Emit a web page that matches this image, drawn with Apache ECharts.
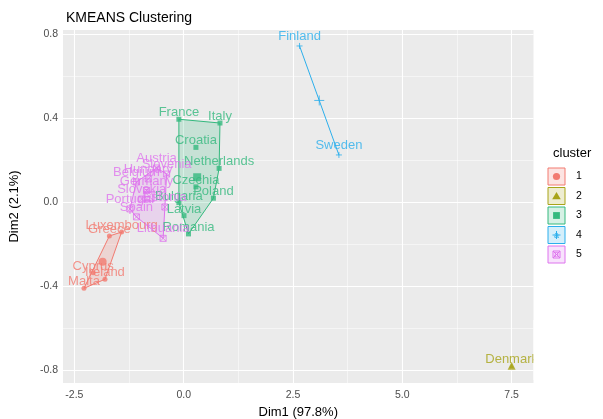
<!DOCTYPE html>
<html>
<head>
<meta charset="utf-8">
<script src="https://cdn.jsdelivr.net/npm/echarts@6/dist/echarts.min.js"></script>
<style>
  html, body { margin: 0; padding: 0; background: #fff; }
  #chart { width: 603px; height: 419px; }
</style>
</head>
<body>
<div id="chart"></div>
<script>
// data
var clusterNames = ['1', '2', '3', '4', '5'];
var clusterColors = ['#F27A70', '#A8A418', '#34B97E', '#2CAFEC', '#DE74EE'];

var countryNames = ['Luxembourg', 'Greece', 'Cyprus', 'Ireland', 'Malta',
  'Denmark',
  'France', 'Italy', 'Croatia', 'Netherlands', 'Czechia', 'Poland', 'Bulgaria', 'Latvia', 'Romania',
  'Finland', 'Sweden',
  'Austria', 'Slovenia', 'Hungary', 'Belgium', 'Germany', 'Slovakia', 'Estonia', 'Portugal', 'Spain', 'Lithuania'];
var dim1Values = [-1.42, -1.70, -2.07, -1.80, -2.28,
  7.50,
  -0.11, 0.83, 0.28, 0.81, 0.28, 0.68, -0.11, 0.007, 0.11,
  2.65, 3.55,
  -0.62, -0.39, -0.81, -1.08, -0.85, -0.96, -0.43, -1.23, -1.08, -0.47];
var dim2Values = [-0.143, -0.162, -0.337, -0.368, -0.411,
  -0.78,
  0.394, 0.376, 0.26, 0.16, 0.072, 0.018, -0.003, -0.065, -0.152,
  0.743, 0.224,
  0.162, 0.133, 0.11, 0.095, 0.055, 0.014, -0.024, -0.033, -0.071, -0.173];
var clusterIds = [0, 0, 0, 0, 0,
  1,
  2, 2, 2, 2, 2, 2, 2, 2, 2,
  3, 3,
  4, 4, 4, 4, 4, 4, 4, 4, 4, 4];

var xTicks = [-2.5, 0, 2.5, 5, 7.5];
var xMinor = [-1.25, 1.25, 3.75, 6.25];
var yTicks = [-0.8, -0.4, 0, 0.4, 0.8];
var yMinor = [-0.6, -0.2, 0.2, 0.6];

var plusPath = 'path://M0,5L10,5M5,0L5,10';
var boxXPath = 'path://M0,0L10,0L10,10L0,10ZM0,0L10,10M10,0L0,10';
var symbols = ['circle', 'triangle', 'rect', plusPath, boxXPath];
var hollow = [false, false, false, true, true];

function hexA(hex, a) {
  var n = parseInt(hex.slice(1), 16);
  return 'rgba(' + (n >> 16) + ',' + ((n >> 8) & 255) + ',' + (n & 255) + ',' + a + ')';
}

// convex hull (monotone chain)
function hull(pts) {
  pts = pts.slice().sort(function (a, b) { return a[0] - b[0] || a[1] - b[1]; });
  if (pts.length < 3) return pts;
  function cross(o, a, b) { return (a[0] - o[0]) * (b[1] - o[1]) - (a[1] - o[1]) * (b[0] - o[0]); }
  var lower = [], upper = [];
  pts.forEach(function (p) {
    while (lower.length >= 2 && cross(lower[lower.length - 2], lower[lower.length - 1], p) <= 0) lower.pop();
    lower.push(p);
  });
  for (var i = pts.length - 1; i >= 0; i--) {
    var p = pts[i];
    while (upper.length >= 2 && cross(upper[upper.length - 2], upper[upper.length - 1], p) <= 0) upper.pop();
    upper.push(p);
  }
  upper.pop(); lower.pop();
  return lower.concat(upper);
}

// grid lines (ggplot style), major and minor
var gridLines = function (xs, ys) {
  return xs.map(function (v) { return { xAxis: v }; })
    .concat(ys.map(function (v) { return { yAxis: v }; }));
};

var series = [{
  type: 'line',
  z: 1,
  silent: true,
  data: [],
  markLine: {
    z: 1, silent: true, symbol: 'none', animation: false,
    label: { show: false },
    lineStyle: { color: '#fff', width: 0.5, type: 'solid' },
    data: gridLines(xMinor, yMinor)
  }
}, {
  type: 'line',
  z: 1,
  silent: true,
  data: [],
  markLine: {
    z: 1, silent: true, symbol: 'none', animation: false,
    label: { show: false },
    lineStyle: { color: '#fff', width: 1.1, type: 'solid' },
    data: gridLines(xTicks, yTicks)
  }
}];

clusterNames.forEach(function (cn, k) {
  var pts = [], named = [];
  for (var i = 0; i < countryNames.length; i++) {
    if (clusterIds[i] === k) {
      pts.push([dim1Values[i], dim2Values[i]]);
      named.push({ name: countryNames[i], value: [dim1Values[i], dim2Values[i]] });
    }
  }
  var col = clusterColors[k];
  var h = hull(pts);
  if (h.length >= 2) {
    series.push({
      type: 'custom',
      z: 2,
      silent: true,
      data: [[0, 0]],
      renderItem: function (params, api) {
        var poly = h.map(function (p) { return api.coord(p); });
        return {
          type: h.length > 2 ? 'polygon' : 'polyline',
          shape: { points: poly },
          style: { fill: h.length > 2 ? hexA(col, 0.2) : null, stroke: col, lineWidth: 1 }
        };
      }
    });
  }
  var style = hollow[k] ? { color: 'none', borderColor: col, borderWidth: 1 } : { color: col };
  series.push({
    type: 'scatter',
    name: cn,
    z: 3,
    symbol: symbols[k],
    symbolSize: hollow[k] ? 6 : 5,
    itemStyle: style,
    label: {
      show: true, position: 'top', distance: 1.5, offset: [0, 4],
      formatter: '{b}', color: col, fontSize: 13, fontFamily: 'Liberation Sans'
    },
    data: named
  });
  var cx = 0, cy = 0;
  pts.forEach(function (p) { cx += p[0]; cy += p[1]; });
  series.push({
    type: 'scatter',
    z: 4,
    symbol: symbols[k],
    symbolSize: hollow[k] ? 10 : 8,
    itemStyle: style,
    data: [[cx / pts.length, cy / pts.length]]
  });
});

// legend drawn as ggplot-like keys
var legendGraphics = [{
  type: 'text', left: 553, top: 147,
  style: { text: 'cluster', fontSize: 13, fontFamily: 'Liberation Sans', fill: '#000' }
}, {
  // labels are cut at the panel edge, as in the original
  type: 'rect', z: 100, shape: { x: 533.5, y: 320, width: 14, height: 60 },
  style: { fill: '#fff' }
}];
clusterNames.forEach(function (cn, k) {
  var col = clusterColors[k];
  var s = 17, cx = 556.5, cy = 176.5 + k * 19.5;
  var x0 = cx - s / 2, y0 = cy - s / 2;
  var kids = [{
    type: 'rect', shape: { x: x0, y: y0, width: s, height: s },
    style: { fill: hexA(col, 0.2), stroke: col, lineWidth: 1 }
  }];
  if (k === 0) kids.push({ type: 'circle', shape: { cx: cx, cy: cy, r: 3.6 }, style: { fill: col } });
  if (k === 1) kids.push({ type: 'polygon', shape: { points: [[cx, cy - 4], [cx + 4.3, cy + 3.3], [cx - 4.3, cy + 3.3]] }, style: { fill: col } });
  if (k === 2) kids.push({ type: 'rect', shape: { x: cx - 3.4, y: cy - 3.4, width: 6.8, height: 6.8 }, style: { fill: col } });
  if (k >= 3) kids.push({ type: 'text', x: cx, y: cy + 0.5, style: { text: 'a', fontSize: 9, fontFamily: 'Liberation Sans', fill: col, align: 'center', verticalAlign: 'middle' } });
  if (k === 3) {
    kids.push({ type: 'line', shape: { x1: cx - 4, y1: cy, x2: cx + 4, y2: cy }, style: { stroke: col, lineWidth: 1 } });
    kids.push({ type: 'line', shape: { x1: cx, y1: cy - 4, x2: cx, y2: cy + 4 }, style: { stroke: col, lineWidth: 1 } });
  }
  if (k === 4) {
    kids.push({ type: 'rect', shape: { x: cx - 3.5, y: cy - 3.5, width: 7, height: 7 }, style: { fill: 'none', stroke: col, lineWidth: 1 } });
    kids.push({ type: 'line', shape: { x1: cx - 3.5, y1: cy - 3.5, x2: cx + 3.5, y2: cy + 3.5 }, style: { stroke: col, lineWidth: 1 } });
    kids.push({ type: 'line', shape: { x1: cx + 3.5, y1: cy - 3.5, x2: cx - 3.5, y2: cy + 3.5 }, style: { stroke: col, lineWidth: 1 } });
  }
  kids.push({
    type: 'text', x: 576, y: cy,
    style: { text: cn, fontSize: 10.5, fontFamily: 'Liberation Sans', fill: '#000', verticalAlign: 'middle' }
  });
  legendGraphics.push({ type: 'group', children: kids });
});

var axisLabelStyle = { color: '#4D4D4D', fontSize: 10.5, fontFamily: 'Liberation Sans' };

var option = {
  animation: false,
  backgroundColor: '#fff',
  title: {
    text: 'KMEANS Clustering', left: 61, top: 6,
    textStyle: { fontSize: 14, fontWeight: 'normal', color: '#000', fontFamily: 'Liberation Sans' }
  },
  grid: {
    left: 63, right: 69.5, top: 30, bottom: 36,
    outerBoundsMode: 'none', containLabel: false,
    show: true, backgroundColor: '#EBEBEB', borderWidth: 0
  },
  xAxis: {
    type: 'value', min: -2.76, max: 8.0,
    name: 'Dim1 (97.8%)', nameLocation: 'middle', nameGap: 21,
    nameTextStyle: { color: '#000', fontSize: 13, fontFamily: 'Liberation Sans' },
    axisLine: { show: false },
    axisTick: { show: true, length: 3, lineStyle: { color: '#333' }, customValues: xTicks },
    axisLabel: Object.assign({ customValues: xTicks, margin: 7, formatter: function (v) { return v.toFixed(1); } }, axisLabelStyle),
    splitLine: { show: false }
  },
  yAxis: {
    type: 'value', min: -0.862, max: 0.819,
    name: 'Dim2 (2.1%)', nameLocation: 'middle', nameGap: 42,
    nameTextStyle: { color: '#000', fontSize: 13, fontFamily: 'Liberation Sans' },
    axisLine: { show: false },
    axisTick: { show: true, length: 3, lineStyle: { color: '#333' }, customValues: yTicks },
    axisLabel: Object.assign({ customValues: yTicks, margin: 5, formatter: function (v) { return v.toFixed(1); } }, axisLabelStyle),
    splitLine: { show: false }
  },
  graphic: legendGraphics,
  series: series
};

var myChart = echarts.init(document.getElementById('chart'));
myChart.setOption(option);
</script>
</body>
</html>
